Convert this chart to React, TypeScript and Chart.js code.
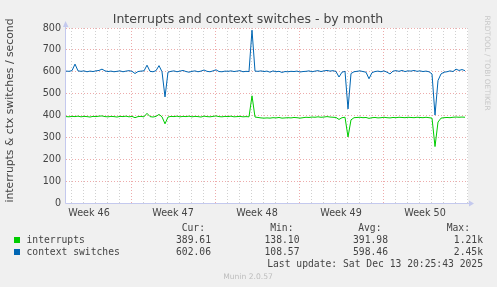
import { useEffect, useRef } from 'react';
import { Chart, registerables } from 'chart.js';

Chart.register(...registerables);

// x positions are days since graph start, one value every 6 hours
const STEP_DAYS = 0.25;

const interrupts = [
  395, 394, 396, 395, 397, 394, 396, 395, 393, 396, 395, 397, 398, 395, 394, 396, 395, 393, 396, 395,
  397, 394, 396, 390, 395, 396, 394, 410, 395, 393, 396, 405, 394, 362, 393, 396, 395, 397, 394, 396,
  395, 397, 394, 396, 395, 393, 397, 395, 394, 396, 398, 395, 394, 396, 395, 397, 394, 395, 396, 394,
  395, 394, 490, 393, 391, 389, 388, 389, 388, 390, 389, 391, 388, 389, 390, 389, 391, 390, 388, 390,
  392, 391, 393, 392, 394, 392, 393, 395, 393, 392, 391, 382, 390, 392, 302, 380, 390, 391, 392, 390,
  391, 387, 390, 391, 389, 390, 392, 390, 389, 391, 390, 392, 391, 390, 392, 391, 390, 392, 391, 390,
  392, 390, 388, 258, 370, 388, 390, 391, 390, 392, 393, 392, 393, 392,
];

const contextSwitches = [
  603, 602, 605, 635, 604, 602, 604, 600, 603, 601, 604, 606, 612, 604, 601, 603, 600, 602, 604, 600,
  603, 605, 602, 592, 601, 603, 604, 630, 602, 600, 605, 628, 600, 485, 598, 602, 604, 600, 603, 606,
  601, 598, 602, 604, 600, 603, 608, 602, 600, 604, 609, 601, 600, 603, 602, 604, 601, 603, 605, 600,
  602, 601, 790, 603, 602, 604, 601, 603, 598, 604, 600, 602, 597, 601, 600, 602, 601, 603, 599, 601,
  602, 604, 600, 603, 605, 601, 604, 606, 603, 605, 601, 576, 598, 602, 430, 592, 600, 602, 604, 601,
  598, 568, 596, 601, 603, 600, 604, 598, 590, 603, 605, 602, 606, 601, 604, 603, 606, 602, 604, 601,
  603, 600, 590, 402, 560, 590, 598, 600, 604, 601, 612, 606, 610, 605,
];

const weekLabels = ['Week 46', 'Week 47', 'Week 48', 'Week 49', 'Week 50'];
const weekLabelDays = [1.92, 8.92, 15.92, 22.92, 29.92];
const weekStartDays = [5.42, 12.42, 19.42, 26.42];
const FIRST_MIDNIGHT = 0.42;
const DAY_COUNT = 34;
const X_MAX_DAYS = 33.5;

const Y_MIN = 0;
const Y_MAX = 800;
const Y_MINOR_STEP = 50;
const Y_MAJOR_STEP = 100;

const seriesNames = ['interrupts', 'context switches'];
const seriesColors = ['#00cc00', '#0066b3'];
const curValues = ['389.61', '602.06'];
const minValues = ['138.10', '108.57'];
const avgValues = ['391.98', '598.46'];
const maxValues = ['1.21k', '2.45k'];
const legendHeaders = ['Cur:', 'Min:', 'Avg:', 'Max:'];

const TITLE = 'Interrupts and context switches - by month';
const Y_TITLE = 'interrupts & ctx switches / second';
const LAST_UPDATE = 'Last update: Sat Dec 13 20:25:43 2025';
const WATERMARK = 'RRDTOOL / TOBI OETIKER';
const FOOTER = 'Munin 2.0.57';

const near = (a: number, list: number[]) => list.some((b) => Math.abs(a - b) < 0.01);

const RED_GRID = 'rgba(232, 150, 150, 0.8)';
const GRAY_GRID = 'rgba(200, 200, 200, 0.85)';
const AXIS_COLOR = '#c4c9ee';
const TEXT = '#444444';
const SANS = 'DejaVu Sans';
const MONO = 'DejaVu Sans Mono';

const munin = {
  id: 'munin',
  beforeDraw(chart: any) {
    const { ctx, chartArea } = chart;
    ctx.save();
    ctx.fillStyle = '#f0f0f0';
    ctx.fillRect(0, 0, chart.width, chart.height);
    ctx.fillStyle = '#ffffff';
    ctx.fillRect(chartArea.left, chartArea.top, chartArea.right - chartArea.left, chartArea.bottom - chartArea.top);
    ctx.restore();
  },
  afterDraw(chart: any) {
    const { ctx, chartArea } = chart;
    const { left, right, top, bottom } = chartArea;
    ctx.save();
    // axes
    ctx.strokeStyle = AXIS_COLOR;
    ctx.lineWidth = 1;
    ctx.beginPath();
    ctx.moveTo(left - 0.5, bottom + 0.5);
    ctx.lineTo(right + 2, bottom + 0.5);
    ctx.moveTo(left - 0.5, bottom + 0.5);
    ctx.lineTo(left - 0.5, top - 4);
    ctx.stroke();
    ctx.fillStyle = AXIS_COLOR;
    ctx.beginPath();
    ctx.moveTo(left - 3, top - 1);
    ctx.lineTo(left + 2.5, top - 1);
    ctx.lineTo(left - 0.5, top - 7);
    ctx.closePath();
    ctx.fill();
    ctx.beginPath();
    ctx.moveTo(right + 1, bottom - 2.5);
    ctx.lineTo(right + 1, bottom + 3.5);
    ctx.lineTo(right + 6, bottom + 0.5);
    ctx.closePath();
    ctx.fill();

    // title
    ctx.fillStyle = TEXT;
    ctx.font = `12.5px "${SANS}"`;
    ctx.textAlign = 'center';
    ctx.textBaseline = 'alphabetic';
    ctx.fillText(TITLE, 248, 23);

    // y title
    ctx.save();
    ctx.translate(13.3, 110.5);
    ctx.rotate(-Math.PI / 2);
    ctx.font = `10.8px "${SANS}"`;
    ctx.textAlign = 'center';
    ctx.textBaseline = 'alphabetic';
    ctx.fillText(Y_TITLE, 0, 0);
    ctx.restore();

    // watermark
    ctx.save();
    ctx.translate(484.5, 63);
    ctx.rotate(Math.PI / 2);
    ctx.fillStyle = '#c8c8c8';
    ctx.font = `7.4px "${SANS}"`;
    ctx.textAlign = 'center';
    ctx.textBaseline = 'alphabetic';
    ctx.fillText(WATERMARK, 0, 0);
    ctx.restore();

    // legend
    ctx.font = `9.7px "${MONO}"`;
    ctx.fillStyle = TEXT;
    ctx.textAlign = 'right';
    const headerX = [205, 293.5, 381.5, 470];
    const colX = [211, 299.5, 388, 483];
    legendHeaders.forEach((h, i) => ctx.fillText(h, headerX[i], 230.5));
    const cols = [curValues, minValues, avgValues, maxValues];
    seriesNames.forEach((name, r) => {
      const y = 242.5 + r * 12;
      ctx.fillStyle = seriesColors[r];
      ctx.fillRect(14, y - 5.5, 6, 6);
      ctx.fillStyle = TEXT;
      ctx.textAlign = 'left';
      ctx.fillText(name, 26.5, y);
      ctx.textAlign = 'right';
      cols.forEach((c, i) => ctx.fillText(c[r], colX[i], y));
    });
    ctx.fillText(LAST_UPDATE, 483, 266.5);

    // footer
    ctx.fillStyle = '#bdbdbd';
    ctx.font = `7.6px "${SANS}"`;
    ctx.textAlign = 'center';
    ctx.fillText(FOOTER, 248, 278.5);
    ctx.restore();
  },
};

export default function App() {
  const ref = useRef<HTMLCanvasElement | null>(null);

  useEffect(() => {
    document.body.style.margin = '0';
    const canvas = ref.current;
    if (!canvas) return;
    const toPoints = (arr: number[]) => arr.map((v, i) => ({ x: i * STEP_DAYS, y: v }));
    const chart = new Chart(canvas, {
      type: 'line',
      data: {
        datasets: [
          {
            label: seriesNames[0],
            data: toPoints(interrupts),
            borderColor: seriesColors[0],
            borderWidth: 1,
            pointRadius: 0,
            tension: 0,
            fill: false,
          },
          {
            label: seriesNames[1],
            data: toPoints(contextSwitches),
            borderColor: seriesColors[1],
            borderWidth: 1,
            pointRadius: 0,
            tension: 0,
            fill: false,
          },
        ],
      },
      options: {
        responsive: false,
        animation: false,
        devicePixelRatio: 1,
        layout: { padding: { left: 0, right: 29, top: 28, bottom: 0 } },
        plugins: { legend: { display: false }, title: { display: false }, tooltip: { enabled: false } },
        scales: {
          x: {
            type: 'linear',
            min: 0,
            max: X_MAX_DAYS,
            afterFit: (scale: any) => {
              scale.height = 84;
            },
            afterBuildTicks: (scale: any) => {
              const ticks: { value: number }[] = [];
              for (let k = 0; k < DAY_COUNT; k++) ticks.push({ value: FIRST_MIDNIGHT + k });
              weekLabelDays.forEach((d) => ticks.push({ value: d }));
              ticks.sort((a, b) => a.value - b.value);
              scale.ticks = ticks;
            },
            ticks: {
              autoSkip: false,
              maxRotation: 0,
              minRotation: 0,
              padding: 5,
              color: TEXT,
              font: { family: SANS, size: 9.6 },
              callback: (value: any) => {
                const idx = weekLabelDays.findIndex((d) => Math.abs(d - value) < 0.01);
                return idx >= 0 ? weekLabels[idx] : '';
              },
            },
            grid: {
              drawTicks: false,
              color: (c: any) => {
                const v = c.tick ? c.tick.value : 0;
                if (near(v, weekLabelDays)) return 'rgba(0,0,0,0)';
                if (near(v, weekStartDays)) return RED_GRID;
                return GRAY_GRID;
              },
              lineWidth: 1,
            },
            border: { display: false, dash: [1, 2] },
          },
          y: {
            type: 'linear',
            min: Y_MIN,
            max: Y_MAX,
            afterFit: (scale: any) => {
              scale.width = 66;
            },
            ticks: {
              stepSize: Y_MINOR_STEP,
              padding: 5,
              color: TEXT,
              font: { family: SANS, size: 9.6 },
              callback: (value: any) => (Number(value) % Y_MAJOR_STEP === 0 ? String(value) : ''),
            },
            grid: {
              drawTicks: false,
              color: (c: any) => {
                const v = c.tick ? c.tick.value : 0;
                return v % Y_MAJOR_STEP === 0 ? RED_GRID : GRAY_GRID;
              },
              lineWidth: 1,
            },
            border: { display: false, dash: [1, 2] },
          },
        },
      },
      plugins: [munin],
    });
    return () => chart.destroy();
  }, []);

  return <canvas ref={ref} width={497} height={287} style={{ display: 'block', width: 497, height: 287 }} />;
}
